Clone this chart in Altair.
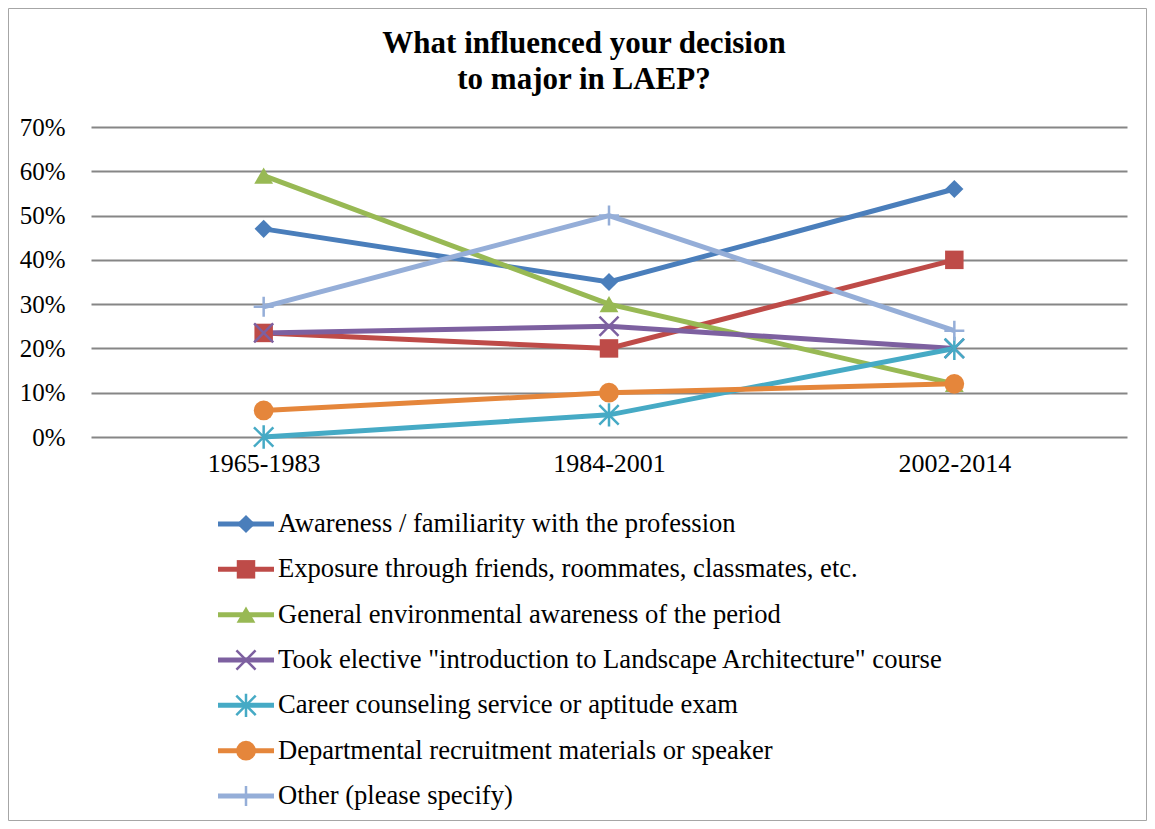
import altair as alt
import pandas as pd

periods = ["1965-1983", "1984-2001", "2002-2014"]
series = [
    "Awareness / familiarity with the profession",
    "Exposure through friends, roommates, classmates, etc.",
    "General environmental awareness of the period",
    "Took elective \"introduction to Landscape Architecture\" course",
    "Career counseling service or aptitude exam",
    "Departmental recruitment materials or speaker",
    "Other (please specify)",
]
awareness = [0.47, 0.35, 0.56]
exposure = [0.235, 0.20, 0.40]
general = [0.59, 0.30, 0.12]
elective = [0.235, 0.25, 0.20]
career = [0.0, 0.05, 0.20]
departmental = [0.06, 0.10, 0.12]
other = [0.294, 0.50, 0.24]
values = [awareness, exposure, general, elective, career, departmental, other]
title_lines = ["What influenced your decision", "to major in LAEP?"]

colors = ["#4A7EBB", "#BE4B48", "#98B954", "#7D60A0", "#46AAC5", "#E5863B", "#95AED8"]
X_PATH = "M-1,-1L1,1M-1,1L1,-1"
AST_PATH = "M-1,-1L1,1M-1,1L1,-1M0,-1.2L0,1.2"
PLUS_PATH = "M0,-1L0,1M-1,0L1,0"
shapes = ["diamond", "square", "triangle-up", X_PATH, AST_PATH, "circle", PLUS_PATH]
sizes = [330, 400, 400, 300, 380, 420, 280]
filled_series = [series[i] for i in (0, 1, 2, 5)]
stroke_series = [series[i] for i in (3, 4, 6)]

rows = []
for s, vals in zip(series, values):
    for p, v in zip(periods, vals):
        rows.append({"series": s, "period": p, "value": v, "order": series.index(s)})
df = pd.DataFrame(rows)
leg = pd.DataFrame({"series": series, "order": list(range(len(series)))})

color = alt.Color("series:N", scale=alt.Scale(domain=series, range=colors), legend=None)
shape = alt.Shape("series:N", scale=alt.Scale(domain=series, range=shapes), legend=None)
size = alt.Size("series:N", scale=alt.Scale(domain=series, range=sizes), legend=None)

FONT = "Liberation Serif, Times New Roman, DejaVu Serif, serif"
W, H = 1036, 310

x = alt.X("period:N", sort=periods, title=None,
          scale=alt.Scale(domain=periods, type="point", padding=0.5),
          axis=alt.Axis(labelAngle=0, labelFont=FONT, labelFontSize=26, labelColor="#000000",
                        domain=False, ticks=False, labelPadding=13, grid=False))
y = alt.Y("value:Q", title=None,
          scale=alt.Scale(domain=[0, 0.7], nice=False),
          axis=alt.Axis(format=".0%", values=[0, 0.1, 0.2, 0.3, 0.4, 0.5, 0.6, 0.7],
                        labelFont=FONT, labelFontSize=25, labelColor="#000000",
                        domain=False, ticks=False, labelPadding=26,
                        grid=True, gridColor="#868686", gridWidth=2))

base = alt.Chart(df)
lines = base.mark_line(strokeWidth=5).encode(x=x, y=y, color=color, detail="series:N",
                                              order="order:Q")
pts_f = base.transform_filter(alt.FieldOneOfPredicate(field="series", oneOf=filled_series)).mark_point(
    filled=True, opacity=1).encode(x=x, y=y, color=color, shape=shape, size=size)
pts_s = base.transform_filter(alt.FieldOneOfPredicate(field="series", oneOf=stroke_series)).mark_point(
    filled=False, opacity=1, strokeWidth=2.5).encode(x=x, y=y, color=color, shape=shape, size=size)

border = alt.Chart(pd.DataFrame({"a": [0]})).mark_rect(
    fill=None, stroke="#A6A6A6", strokeWidth=1).encode(
    x=alt.value(-82.5), x2=alt.value(W + 19.5), y=alt.value(-118.5), y2=alt.value(H + 383.5))

title = alt.Chart(pd.DataFrame({"line": title_lines, "i": [0, 1]})).mark_text(
    align="center", baseline="alphabetic", font=FONT, fontSize=31, fontWeight="bold",
    color="#000000").encode(
    x=alt.value(493),
    y=alt.Y("i:Q", scale=alt.Scale(domain=[0, 1], range=[-74, -38]), axis=None),
    text="line:N")

main = alt.layer(border, lines, pts_f, pts_s)

ly = alt.Y("order:Q", scale=alt.Scale(domain=[0, 6], range=[397, 669]), axis=None)
lbase = alt.Chart(leg)
leg_line = lbase.mark_rule(strokeWidth=5).encode(
    x=alt.value(127), x2=alt.value(183), y=ly, color=color)
leg_pf = lbase.transform_filter(alt.FieldOneOfPredicate(field="series", oneOf=filled_series)).mark_point(
    filled=True, opacity=1).encode(x=alt.value(155), y=ly, color=color, shape=shape, size=size)
leg_ps = lbase.transform_filter(alt.FieldOneOfPredicate(field="series", oneOf=stroke_series)).mark_point(
    filled=False, opacity=1, strokeWidth=2.5).encode(x=alt.value(155), y=ly, color=color, shape=shape, size=size)
leg_txt = lbase.mark_text(align="left", baseline="middle", font=FONT, fontSize=26.6, color="#000000").encode(
    x=alt.value(187), y=ly, text="series:N")
legend = alt.layer(leg_line, leg_pf, leg_ps, leg_txt)

chart = alt.layer(main, legend, title).resolve_scale(y="independent").properties(
    width=W, height=H,
    autosize=alt.AutoSizeParams(type="none"),
    padding={"left": 83, "top": 119, "right": 20, "bottom": 384},
).configure_view(stroke=None)

chart.save("out.html", embed_options={"renderer": "svg", "actions": False})
